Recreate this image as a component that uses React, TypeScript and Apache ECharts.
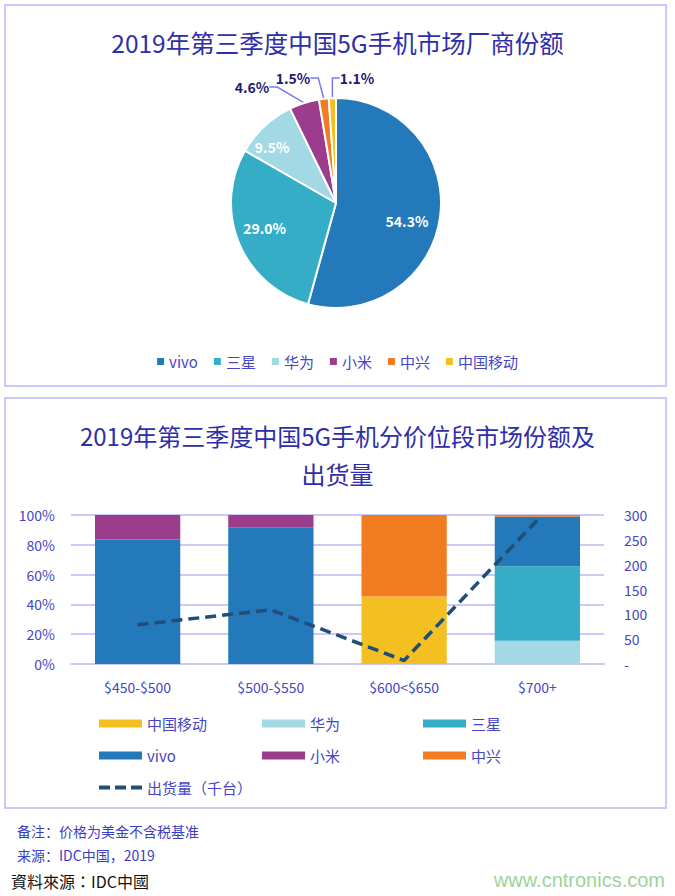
import React, { useEffect, useRef } from "react";
import * as echarts from "echarts";

// ---- data ----
const pieNames = ["vivo", "三星", "华为", "小米", "中兴", "中国移动"];
const pieShares = [54.3, 29.0, 9.5, 4.6, 1.5, 1.1];

const priceBands = ["$450-$500", "$500-$550", "$600<$650", "$700+"];
const barSeriesNames = ["中国移动", "华为", "三星", "vivo", "小米", "中兴"];
const shareChinaMobile = [0, 0, 45.3, 0];
const shareHuawei = [0, 0, 0, 15.6];
const shareSamsung = [0, 0, 0, 50.0];
const shareVivo = [83.5, 91.7, 0, 33.3];
const shareXiaomi = [16.5, 8.3, 0, 0];
const shareZte = [0, 0, 54.7, 1.1];
const shipmentName = "出货量（千台）";
const shipments = [79, 109, 7, 290];

const leftTicks = [0, 20, 40, 60, 80, 100];
const rightTicks = [0, 50, 100, 150, 200, 250, 300];

// ---- styles ----
const brandColor: Record<string, string> = {
  vivo: "#2479BA",
  "三星": "#36ADC6",
  "华为": "#A3D9E4",
  "小米": "#9B3D8C",
  "中兴": "#F17C22",
  "中国移动": "#F3BF21",
};
const TITLE = "#2E2EAA";
const AXIS = "#4646C4";
const FRAME = "#CACAF6";
const LINE = "#1F4E79";
const CJK = '"Noto Sans CJK SC", "Noto Sans", sans-serif';

export default function App() {
  const ref = useRef<HTMLDivElement>(null);

  useEffect(() => {
    if (!ref.current) return;
    const chart = echarts.init(ref.current, null, { renderer: "svg" });

    const barData = [shareChinaMobile, shareHuawei, shareSamsung, shareVivo, shareXiaomi, shareZte];

    const insideOffsets: Record<number, [number, number]> = {
      0: [16, 11],
      1: [-20, 4],
      2: [-26, -15],
    };
    const outsideSpots: Record<number, [number, number]> = {
      3: [-84, -116],
      4: [-43, -125],
      5: [21, -125],
    };
    const pieCx = 336;
    const pieCy = 203;

    const legendCols = [99, 262, 423];
    const legendRows = [716, 748, 780];

    const barLegends = barSeriesNames.map((n, i) => ({
      data: [n],
      left: legendCols[i % 3],
      top: legendRows[Math.floor(i / 3)],
      padding: 0,
      icon: "rect",
      itemWidth: 43,
      itemHeight: 8,
      itemGap: 6,
      textStyle: { color: AXIS, fontSize: 15, fontFamily: CJK },
      selectedMode: false,
    }));

    const option: any = {
      animation: false,
      textStyle: { fontFamily: CJK },
      title: [
        {
          text: "2019年第三季度中国5G手机市场厂商份额",
          left: "center",
          top: 25,
          textStyle: { color: TITLE, fontSize: 24.5, fontWeight: "normal", fontFamily: CJK },
        },
        {
          text: "2019年第三季度中国5G手机分价位段市场份额及\n出货量",
          left: "center",
          top: 411,
          textStyle: { color: TITLE, fontSize: 24, fontWeight: "normal", fontFamily: CJK, lineHeight: 38 },
        },
      ],
      legend: [
        {
          data: pieNames,
          left: "center",
          top: 349,
          icon: "rect",
          itemWidth: 7,
          itemHeight: 7,
          itemGap: 16,
          textStyle: { color: AXIS, fontSize: 15, fontFamily: CJK },
          selectedMode: false,
        },
        ...barLegends,
        {
          data: [shipmentName],
          left: legendCols[0],
          top: legendRows[2],
          padding: 0,
          icon: "path://M0,0h11v4h-11z M16,0h11v4h-11z M32,0h11v4h-11z",
          itemWidth: 43,
          itemHeight: 4,
          itemGap: 6,
          itemStyle: { color: LINE },
          textStyle: { color: AXIS, fontSize: 15, fontFamily: CJK },
          selectedMode: false,
        },
      ],
      grid: { left: 71, right: 71, top: 515, height: 149, containLabel: false },
      xAxis: {
        type: "category",
        data: priceBands,
        axisLine: { lineStyle: { color: FRAME, width: 2 } },
        axisTick: { show: false },
        axisLabel: { color: AXIS, fontSize: 14, margin: 16, fontFamily: CJK },
      },
      yAxis: [
        {
          type: "value",
          min: leftTicks[0],
          max: leftTicks[leftTicks.length - 1],
          interval: 20,
          axisLine: { show: false },
          axisTick: { show: false },
          splitLine: { lineStyle: { color: FRAME, width: 2 } },
          axisLabel: { color: AXIS, fontSize: 14, margin: 16, formatter: (v: number) => v + "%", fontFamily: CJK },
        },
        {
          type: "value",
          min: rightTicks[0],
          max: rightTicks[rightTicks.length - 1],
          interval: 50,
          axisLine: { show: false },
          axisTick: { show: false },
          splitLine: { show: false },
          axisLabel: {
            color: AXIS,
            fontSize: 14,
            margin: 20,
            formatter: (v: number) => (v === 0 ? "-" : String(v)),
            fontFamily: CJK,
          },
        },
      ],
      series: [
        {
          type: "pie",
          center: [pieCx, pieCy],
          radius: 105,
          startAngle: 90,
          clockwise: true,
          itemStyle: { borderColor: "#fff", borderWidth: 2 },
          label: {
            show: true,
            position: "outside",
            formatter: (p: any) => p.value.toFixed(1) + "%",
            color: "#1D1D6E",
            fontSize: 14,
            fontWeight: "bold",
            fontFamily: CJK,
          },
          labelLine: { show: true, length: 8, length2: 8, lineStyle: { color: "#7B7BF0", width: 1.5 } },
          labelLayout: (p: any) => {
            const i = p.dataIndex;
            if (insideOffsets[i]) return { dx: insideOffsets[i][0], dy: insideOffsets[i][1] };
            if (outsideSpots[i])
              return {
                x: pieCx + outsideSpots[i][0],
                y: pieCy + outsideSpots[i][1],
                align: "center",
                verticalAlign: "middle",
              };
            return {};
          },
          data: pieNames.map((n, i) => ({
            name: n,
            value: pieShares[i],
            itemStyle: { color: brandColor[n] },
            label: i < 3 ? { position: "inside", color: "#fff" } : undefined,
          })),
        },
        ...barSeriesNames.map((n, i) => ({
          name: n,
          type: "bar",
          stack: "share",
          barWidth: "64%",
          yAxisIndex: 0,
          itemStyle: { color: brandColor[n] },
          data: barData[i],
        })),
        {
          name: shipmentName,
          type: "line",
          yAxisIndex: 1,
          symbol: "none",
          lineStyle: { color: LINE, width: 3.5, type: [11, 6] },
          itemStyle: { color: LINE },
          data: shipments,
        },
      ],
      graphic: [
        {
          type: "rect",
          shape: { x: 5, y: 5, width: 661, height: 381 },
          style: { fill: "none", stroke: FRAME, lineWidth: 2 },
          z: -1,
        },
        {
          type: "rect",
          shape: { x: 5, y: 398, width: 661, height: 410 },
          style: { fill: "none", stroke: FRAME, lineWidth: 2 },
          z: -1,
        },
        {
          type: "text",
          x: 17,
          y: 831,
          style: { text: "备注：价格为美金不含税基准", fill: "#3D3DC0", fontSize: 14, fontFamily: CJK, verticalAlign: "middle" },
        },
        {
          type: "text",
          x: 17,
          y: 855,
          style: { text: "来源：IDC中国，2019", fill: "#3D3DC0", fontSize: 14, fontFamily: CJK, verticalAlign: "middle" },
        },
        {
          type: "text",
          x: 11,
          y: 881,
          style: {
            text: "資料來源：IDC中國",
            fill: "#111",
            fontSize: 16,
            fontFamily: '"Noto Sans CJK TC", sans-serif',
            verticalAlign: "middle",
          },
        },
        {
          type: "text",
          x: 665,
          y: 880,
          style: {
            text: "www.cntronics.com",
            fill: "#9CD39C",
            fontSize: 20,
            fontFamily: '"Liberation Sans", Arial, sans-serif',
            align: "right",
            verticalAlign: "middle",
          },
        },
      ],
    };

    chart.setOption(option);
    return () => chart.dispose();
  }, []);

  return (
    <div
      ref={ref}
      style={{ position: "absolute", left: 0, top: 0, width: 675, height: 896, background: "#fff" }}
    />
  );
}
